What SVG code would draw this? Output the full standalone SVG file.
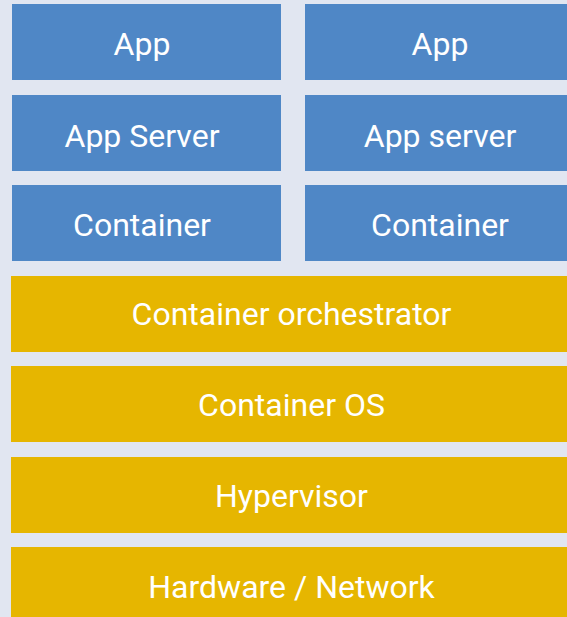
<svg xmlns="http://www.w3.org/2000/svg" width="567" height="617" viewBox="0 0 567 617">
<style>
.blue{fill:#4f87c6}
.yel{fill:#e6b600}
text{font-family:Roboto,"Liberation Sans",sans-serif;font-size:32px;fill:#ffffff;text-anchor:middle}
</style>
<rect x="0" y="0" width="567" height="617" fill="#e1e6f1"/>
<g id="app-left"><rect class="blue" x="12" y="4" width="269" height="76"/><text x="142" y="55">App</text></g>
<g id="app-right"><rect class="blue" x="305" y="4" width="270" height="76"/><text x="440" y="55">App</text></g>
<g id="appserver-left"><rect class="blue" x="12" y="95" width="269" height="76"/><text x="142" y="147">App Server</text></g>
<g id="appserver-right"><rect class="blue" x="305" y="95" width="270" height="76"/><text x="440" y="147">App server</text></g>
<g id="container-left"><rect class="blue" x="12" y="185" width="269" height="76"/><text x="142" y="236">Container</text></g>
<g id="container-right"><rect class="blue" x="305" y="185" width="270" height="76"/><text x="440" y="236">Container</text></g>
<g id="orchestrator"><rect class="yel" x="11" y="276" width="561" height="76"/><text x="291.5" y="325">Container orchestrator</text></g>
<g id="container-os"><rect class="yel" x="11" y="366" width="561" height="76"/><text x="291.5" y="416">Container OS</text></g>
<g id="hypervisor"><rect class="yel" x="11" y="457" width="561" height="76"/><text x="291.5" y="507">Hypervisor</text></g>
<g id="hardware"><rect class="yel" x="11" y="547" width="561" height="76"/><text x="291.5" y="598">Hardware / Network</text></g>
<g id="connectors"/>
</svg>
